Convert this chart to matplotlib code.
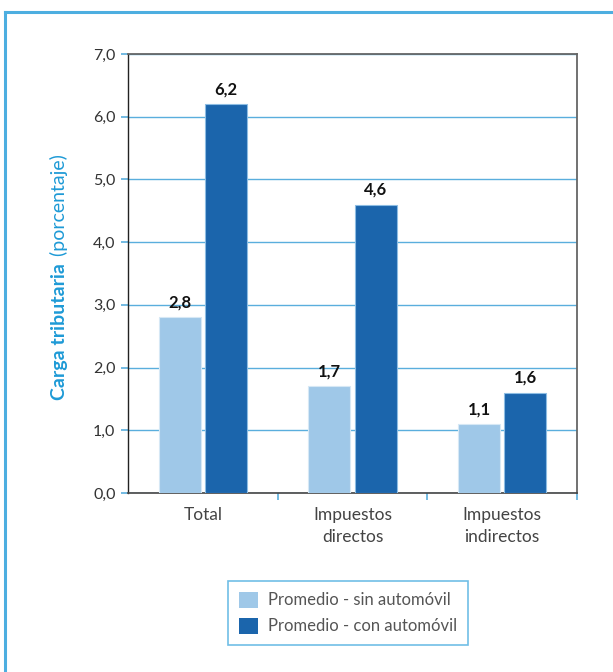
import matplotlib
matplotlib.use("Agg")
import matplotlib.pyplot as plt
import numpy as np
from matplotlib.lines import Line2D

categories = ["Total", "Impuestos\ndirectos", "Impuestos\nindirectos"]
sin_auto = [2.8, 1.7, 1.1]
con_auto = [6.2, 4.6, 1.6]
series_names = ["Promedio - sin automóvil", "Promedio - con automóvil"]
yticks = [0, 1, 2, 3, 4, 5, 6, 7]

plt.rcParams['font.family'] = ['Lato', 'DejaVu Sans']

light = "#9FC8E8"
dark = "#1B65AC"
grid_c = "#5AAEDD"
frame_c = "#4DAEE0"

fig = plt.figure(figsize=(6.13, 6.72), dpi=100)
W, H = 613, 672
ax = fig.add_axes([128 / W, 1 - 493 / H, 449 / W, 439 / H])

x = np.arange(len(categories))
bw = 0.28
off = 0.155
b1 = ax.bar(x - off, sin_auto, bw, color=light, edgecolor="#D6E8F5", linewidth=0.8, zorder=3, label=series_names[0])
b2 = ax.bar(x + off, con_auto, bw, color=dark, edgecolor="#8DBDE3", linewidth=0.8, zorder=3, label=series_names[1])

for bars, vals in ((b1, sin_auto), (b2, con_auto)):
    for r, v in zip(bars, vals):
        ax.annotate(f"{v:.1f}".replace(".", ","), (r.get_x() + r.get_width() / 2, v),
                    xytext=(0, 5), textcoords="offset points", ha="center", va="bottom",
                    fontsize=12, fontweight="bold", color="#111111")

ax.set_xlim(-0.5, len(categories) - 0.5)
ax.set_ylim(0, 7)
ax.set_yticks(yticks)
ax.set_yticklabels([f"{t:.1f}".replace(".", ",") for t in yticks], fontsize=11.5, color="#333333")
ax.yaxis.grid(True, color=grid_c, linewidth=1.0, zorder=0)
ax.set_axisbelow(True)
ax.tick_params(axis="y", length=5, width=1.2, color=grid_c, pad=4)

ax.set_xticks(x)
ax.set_xticklabels(categories, fontsize=12.5, color="#444444", linespacing=1.45)
ax.tick_params(axis="x", length=0, pad=10)
ax.set_xticks(np.arange(len(categories)) + 0.5, minor=True)
ax.tick_params(axis="x", which="minor", length=5, width=1.2, color=grid_c)

for s in ("top", "right"):
    ax.spines[s].set_color("#666666")
    ax.spines[s].set_linewidth(1.3)
ax.spines["left"].set_color("#222222")
ax.spines["left"].set_linewidth(1.0)
ax.spines["bottom"].set_color("#444444")
ax.spines["bottom"].set_linewidth(1.2)

# y label, two styles
fx = 57 / W
fy = 1 - 263 / H
fig.text(fx + 0.013, fy, "Carga tributaria", rotation=90, rotation_mode="anchor",
         ha="right", va="baseline", fontsize=14, fontweight="bold", color="#1E9AD6")
fig.text(fx + 0.013, fy + 0.003, " (porcentaje)", rotation=90, rotation_mode="anchor",
         ha="left", va="baseline", fontsize=14, color="#1E9AD6")

leg = fig.legend(handles=[b1, b2], labels=series_names, loc="center",
                 bbox_to_anchor=(348 / W, 1 - 613 / H), fontsize=12, frameon=True,
                 fancybox=False, handlelength=1.1, handleheight=1.1, handletextpad=0.6,
                 borderpad=0.65, labelspacing=0.55)
leg.get_frame().set_edgecolor(frame_c)
leg.get_frame().set_linewidth(1.2)
for t in leg.get_texts():
    t.set_color("#555555")
for p in leg.get_patches():
    p.set_edgecolor("none")

fig.add_artist(Line2D([5.5 / W, 5.5 / W], [0, 1 - 12 / H], transform=fig.transFigure, color=frame_c, linewidth=2.2))
fig.add_artist(Line2D([5 / W, 1], [1 - 12 / H, 1 - 12 / H], transform=fig.transFigure, color=frame_c, linewidth=2.2))

fig.savefig("out.png", dpi=100)
